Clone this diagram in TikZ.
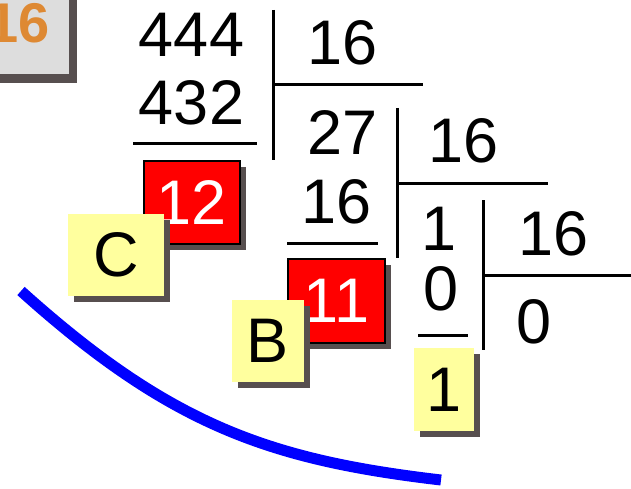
\documentclass[tikz,border=0pt]{standalone}
\usepackage{fontspec}
\setmainfont{Liberation Sans}
\usetikzlibrary{shadows}
\definecolor{shade}{RGB}{87,79,79}
\definecolor{paper}{RGB}{221,221,221}
\definecolor{note}{RGB}{255,255,158}
\definecolor{base}{RGB}{222,137,51}

\begin{document}
\begin{tikzpicture}[x=1pt, y=-1pt,
  num/.style={font=\fontsize{63}{63}\selectfont, inner sep=0pt, anchor=base},
  rest/.style={draw, line width=1.2pt, fill=red, text=white, inner sep=0pt, font=\fontsize{63}{63}\selectfont,
    drop shadow={shadow xshift=6pt, shadow yshift=-6pt, fill=shade, opacity=1}},
  digit/.style={fill=note, inner sep=0pt, font=\fontsize{63}{63}\selectfont,
    drop shadow={shadow xshift=6pt, shadow yshift=-6pt, fill=shade, opacity=1}},
  bar/.style={line width=3pt},
  arc/.style={line width=11pt, blue}
]
  \useasboundingbox (0,0) rectangle (631,489);

  % Base box
  \node[fill=paper, text=base, inner sep=0pt, minimum width=101pt, minimum height=102pt,
    font=\fontsize{56}{56}\selectfont\bfseries,
    drop shadow={shadow xshift=8pt, shadow yshift=-9pt, fill=shade, opacity=1}] (radix) at (18.5,23) {16};

  % First division
  \node[num] (n444) at (191.5,57) {444};
  \node[num] (n432) at (191.5,125) {432};
  \node[num] (d1) at (342.5,65) {16};
  \draw[bar] (133,144) -- (257,144);
  \draw[bar] (273,10) -- (273,160);
  \draw[bar] (273,85) -- (423,85);

  % Second division
  \node[num] (n27) at (343,155) {27};
  \node[num] (n16) at (336.5,223) {16};
  \node[num] (d2) at (463.5,163) {16};
  \draw[bar] (287,243) -- (378,243);
  \draw[bar] (397,108) -- (397,258);
  \draw[bar] (397,183) -- (548,183);

  % Third division
  \node[num] (n1) at (439.5,250) {1};
  \node[num] (n0) at (441,310) {0};
  \node[num] (d3) at (554,255) {16};
  \node[num] (q3) at (534,343) {0};
  \draw[bar] (418,335) -- (468,335);
  \draw[bar] (483,200) -- (483,350);
  \draw[bar] (483,275) -- (640,275);

  % Remainders and hex digits
  \node[rest, minimum width=96pt, minimum height=83pt] (r12) at (192,202.5) {12};
  \node[digit, minimum width=96pt, minimum height=82pt] (hc) at (116,255) {C};
  \node[rest, minimum width=97pt, minimum height=84pt] (r11) at (336.5,301) {11};
  \node[digit, minimum width=72pt, minimum height=82pt] (hb) at (268,341) {B};
  \node[digit, minimum width=60pt, minimum height=83pt] (h1) at (444,389.5) {1};

  % Reading direction
  \draw[arc] (21,291) .. controls (171,426) and (271,460) .. (441,480);

\end{tikzpicture}
\end{document}
